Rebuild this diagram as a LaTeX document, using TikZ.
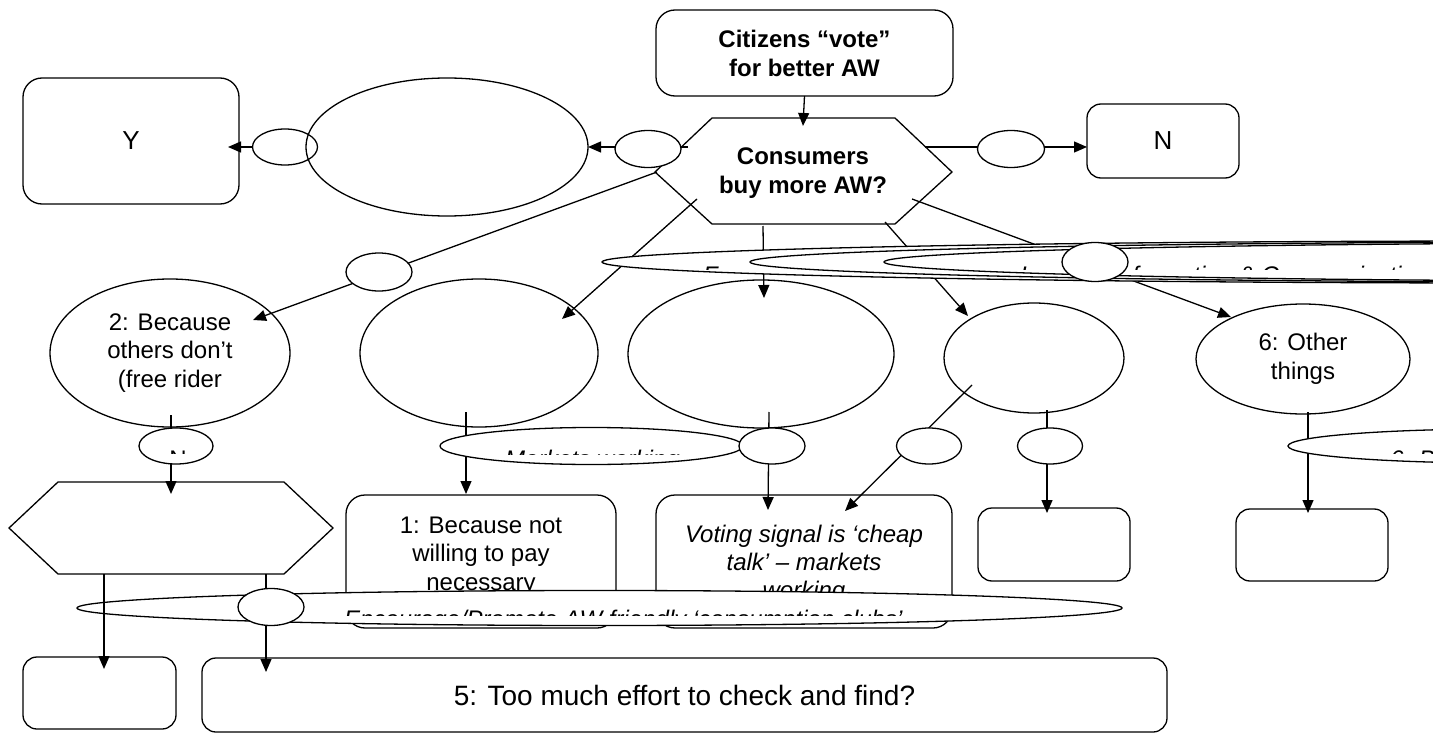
\documentclass[tikz,border=0pt]{standalone}
\usepackage{fontspec}
\setmainfont{Liberation Sans}
\usetikzlibrary{shapes.geometric,arrows.meta}
\begin{document}
\begin{tikzpicture}[x=1pt,y=-1pt,
  every node/.style={inner sep=0pt, outer sep=0pt},
  base/.style={draw=black, line width=1.3pt, fill=white},
  rbox/.style={base, rectangle, rounded corners=14pt},
  lbox/.style={base, rectangle, rounded corners=19pt},
  oval/.style={base, ellipse},
  conn/.style={line width=1.3pt},
  arr/.style={conn, -{Triangle[length=13pt,width=11pt]}},
  txt/.style={font=\fontsize{24}{28.5}\selectfont, align=center},
  bigtxt/.style={font=\fontsize{26}{30}\selectfont, align=center},
  btxt/.style={font=\fontsize{24}{29}\selectfont\bfseries, align=center},
  itxt/.style={font=\fontsize{24}{28}\selectfont\itshape, align=center},
  ltxt/.style={font=\fontsize{24}{28}\selectfont\itshape},
]
\useasboundingbox (0,0) rectangle (1433,733);
\clip (0,0) rectangle (1433,733);

% ---------- boxes ----------
\node[lbox, minimum width=297, minimum height=86, btxt] (cit) at (804.5,53) {Citizens “vote”\\for better AW};
\node[lbox, minimum width=216, minimum height=126, bigtxt] (Y) at (131,141) {Y};
\node[rbox, minimum width=152, minimum height=74, bigtxt] (N) at (1163,141) {N};
\node[lbox, minimum width=270, minimum height=133] (b1) at (481,561.5) {};
\node[txt] (b1t) at (481,556) {1: Because not\\willing to pay\\necessary};
\node[lbox, minimum width=296, minimum height=133] (vote) at (804,561.5) {};
\node[itxt] (votet) at (804,564) {Voting signal is ‘cheap\\talk’ – markets\\working};
\node[rbox, minimum width=152, minimum height=73] (bD) at (1054,544.5) {};
\node[rbox, minimum width=152, minimum height=72] (b6) at (1312,545) {};
\node[rbox, minimum width=153, minimum height=72] (bL) at (99.5,693) {};
\node[rbox, minimum width=965, minimum height=74, font=\fontsize{28}{32}\selectfont] (b5) at (684.5,695) {5: Too much effort to check and find?};

% ---------- hexagons ----------
\draw[base] (655,172) -- (712,118) -- (895,118) -- (952,172) -- (895,224) -- (712,224) -- cycle;
\node[btxt] (hex) at (803,173) {Consumers\\buy more AW?};
\draw[base] (9,528) -- (58,482) -- (284,482) -- (333,528) -- (284,574) -- (58,574) -- cycle;
\node (hexB) at (171,528) {};

% ---------- ellipses ----------
\node[oval, minimum width=65, minimum height=36] (labL1) at (285,147) {};
\node[oval, fill=none, minimum width=282, minimum height=138] (bigE) at (447,147) {};
\node[oval, minimum width=240, minimum height=148, txt] (e2) at (170,353) {2: Because\\others don’t\\(free rider};
\node[oval, minimum width=238, minimum height=148] (eB) at (479,353) {};
\node[oval, minimum width=266, minimum height=148] (eC) at (761,354) {};
\node[oval, minimum width=180, minimum height=110] (eD) at (1034,358) {};
\node[oval, minimum width=214, minimum height=110, txt] (e6) at (1303,359) {6: Other\\things};

% ---------- connector end points ----------
\coordinate (hL) at (688,147);
\coordinate (hR) at (925,147);
\coordinate (yT) at (228,147);
\coordinate (hW) at (657,172);
\coordinate (hSW) at (697,199);
\coordinate (hS) at (763,226);
\coordinate (hSE) at (885,222);
\coordinate (hE) at (912,199);
\coordinate (t2) at (253,320);
\coordinate (tB) at (562,319);
\coordinate (tC) at (764,298);
\coordinate (tD) at (968,316);
\coordinate (t6) at (1231,317);
\coordinate (s2) at (171,415);
\coordinate (sB) at (466,412);
\coordinate (sC) at (769,412);
\coordinate (sD1) at (972,385);
\coordinate (sD2) at (1047,410);
\coordinate (s6) at (1308,412);
\coordinate (thB) at (171,494);
\coordinate (tb1) at (466,494);
\coordinate (tv1) at (768,510);
\coordinate (tv2) at (845,511);
\coordinate (tbD) at (1047,513);
\coordinate (tb6) at (1308,513);
\coordinate (hb1) at (104,574);
\coordinate (hb2) at (266,574);
\coordinate (tbL) at (104,669);
\coordinate (tb5) at (266,672);

% ---------- connectors ----------
\draw[arr] (cit.south) -- ([yshift=-8pt]hex.north |- 0,118);
\draw[arr] (hL) -- (bigE.east);
\draw[arr] (labL1.west) -- (yT);
\draw[arr] (hR) -- (N.west |- hR);
\draw[arr] (hW) -- (t2);
\draw[arr] (hSW) -- (tB);
\draw[arr] (hS) -- (tC);
\draw[arr] (hSE) -- (tD);
\draw[arr] (hE) -- (t6);
\draw[arr] (s2) -- (thB);
\draw[arr] (sB) -- (tb1);
\draw[arr] (sC) -- (tv1);
\draw[arr] (sD1) -- (tv2);
\draw[arr] (sD2) -- (tbD);
\draw[arr] (s6) -- (tb6);
\draw[arr] (hb2) -- (tb5);

% ---------- long label ellipses ----------
\node[oval, minimum width=1836, minimum height=42] (lA) at (1520,262) {};
\begin{scope}
  \clip (600,236) rectangle (1433,269);
  \node[ltxt, anchor=base west] (tA) at (703,283) {Free range};
\end{scope}
\node[oval, minimum width=1700, minimum height=40] (lB) at (1600,262) {};
\node[oval, minimum width=1552, minimum height=38] (lC) at (1660,262) {};
\begin{scope}
  \clip (880,236) rectangle (1433,269);
  \node[ltxt, anchor=base west] (tC) at (1020,283) {Improve information \& Communication};
\end{scope}

\node[oval, minimum width=303, minimum height=37] (lM) at (591.5,446) {};
\begin{scope}
  \clip (440,425) rectangle (745,454);
  \node[ltxt, anchor=base west] (tM) at (505,467) {Markets working};
\end{scope}

\node[oval, minimum width=424, minimum height=34] (l6) at (1500,446) {};
\begin{scope}
  \clip (1285,425) rectangle (1433,453);
  \node[ltxt, anchor=base west] (t6b) at (1390,467) {6: B};
\end{scope}

\node[oval, minimum width=1045, minimum height=35] (lE) at (599.5,608) {};
\begin{scope}
  \clip (77,588) rectangle (1122,615);
  \node[ltxt, anchor=base west] (tE) at (344,627) {Encourage/Promote AW friendly ‘consumption clubs’};
\end{scope}

\draw[arr] (hb1) -- (tbL);

% ---------- small label ellipses ----------
\node[oval, minimum width=66, minimum height=37] (labL2) at (648,149) {};
\node[oval, minimum width=67, minimum height=37] (labR) at (1011,149) {};
\node[oval, minimum width=66, minimum height=38] (labFR) at (379,272) {};
\node[oval, minimum width=66, minimum height=39] (circ) at (1095,262) {};
\node[oval, minimum width=74, minimum height=36] (labN) at (176,446) {};
\begin{scope}
  \clip (140,425) rectangle (225,453);
  \node[txt, anchor=base] (tN) at (178,467) {N};
\end{scope}
\node[oval, minimum width=66, minimum height=36] (lab3) at (772,446) {};
\node[oval, minimum width=65, minimum height=36] (lab4a) at (929,446) {};
\node[oval, minimum width=65, minimum height=36] (lab4b) at (1050,446) {};
\node[oval, minimum width=66, minimum height=37] (labB) at (271,607) {};
\end{tikzpicture}
\end{document}
